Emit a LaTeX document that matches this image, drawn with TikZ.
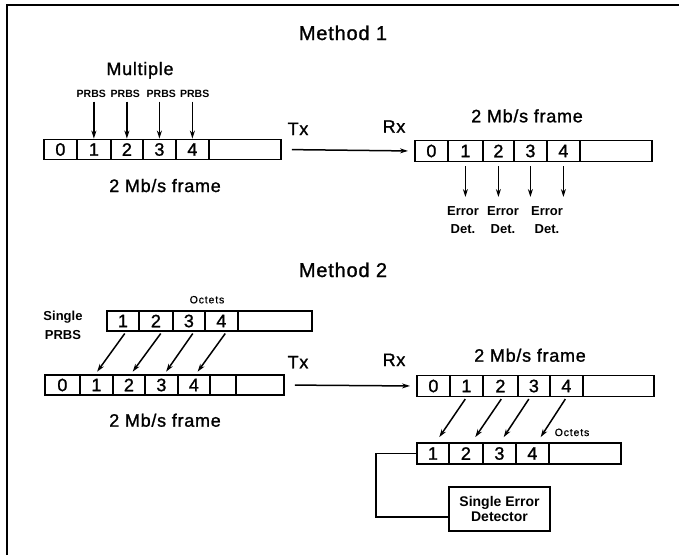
\documentclass[tikz,border=0pt]{standalone}
\usepackage{fontspec}
\setmainfont{Liberation Sans}
\usetikzlibrary{arrows.meta}
\begin{document}
\begin{tikzpicture}[x=1pt,y=-1pt,
  cell/.style={draw, line width=1.8pt, inner sep=0pt, anchor=west, font=\fontsize{18}{20}\selectfont\addfontfeature{FakeBold=1.2}},
  big/.style={inner sep=0pt, anchor=base, font=\fontsize{18}{20}\selectfont\addfontfeature{LetterSpace=4,FakeBold=1.2}},
  title/.style={inner sep=0pt, anchor=base, font=\fontsize{20}{22}\selectfont\addfontfeature{LetterSpace=4,FakeBold=1.2}},
  prbs/.style={inner sep=0pt, anchor=base, font=\fontsize{10.5}{12}\selectfont\bfseries},
  oct/.style={inner sep=0pt, anchor=base, font=\fontsize{10.5}{12}\selectfont\addfontfeature{LetterSpace=8,FakeBold=0.8}},
  lab/.style={inner sep=0pt, align=center, font=\fontsize{13}{18}\selectfont\bfseries},
  arr/.style={-{Stealth[length=8pt,width=5pt]}, line width=1.5pt},
  wire/.style={line width=1.8pt}]
\useasboundingbox (0,0) rectangle (679,555);
\draw[line width=2pt] (7,555) -- (7,5) -- (679,5);

% ---------- Method 1 ----------
\node[title] (m1) at (343,40) {Method 1};
\node[big] (mult) at (140,75) {Multiple};
\node[prbs] (p1) at (91.3,97.3) {PRBS};
\node[prbs] (p2) at (125.3,97.3) {PRBS};
\node[prbs] (p3) at (161.3,97.3) {PRBS};
\node[prbs] (p4) at (194.7,97.3) {PRBS};

\node[cell, minimum width=33pt, minimum height=20pt] (a0) at (43,149.5) {0};
\node[cell, minimum width=34pt, minimum height=20pt] (a1) at (76,149.5) {1};
\node[cell, minimum width=32pt, minimum height=20pt] (a2) at (110,149.5) {2};
\node[cell, minimum width=33pt, minimum height=20pt] (a3) at (142,149.5) {3};
\node[cell, minimum width=33pt, minimum height=20pt] (a4) at (175,149.5) {4};
\node[cell, minimum width=72pt, minimum height=20pt] (a5) at (208,149.5) {};

\foreach \i in {1,2,3,4}{
  \draw[arr, shorten <=4pt] (p\i.south -| a\i.north) -- (a\i.north);
}

\node[big] (tx1) at (298,135) {Tx};
\node[big] (rx1) at (394,132.7) {Rx};
\node[big] (f1a) at (165,192) {2 Mb/s frame};
\node[big] (f1b) at (527,122.3) {2 Mb/s frame};

\node[cell, minimum width=33pt, minimum height=21pt] (b0) at (414,151) {0};
\node[cell, minimum width=35pt, minimum height=21pt] (b1) at (447,151) {1};
\node[cell, minimum width=31pt, minimum height=21pt] (b2) at (482,151) {2};
\node[cell, minimum width=33pt, minimum height=21pt] (b3) at (513,151) {3};
\node[cell, minimum width=33pt, minimum height=21pt] (b4) at (546,151) {4};
\node[cell, minimum width=72pt, minimum height=21pt] (b5) at (579,151) {};

\draw[arr, shorten <=10pt, shorten >=6pt] (a5.east) -- (b0.west);

\coordinate (eline) at (0,197);
\foreach \i in {1,2,3,4}{
  \draw[arr, shorten <=4pt] (b\i.south) -- (b\i.south |- eline);
}
\node[lab] (err1) at (463,220.4) {Error\\Det.};
\node[lab] (err2) at (503,220.4) {Error\\Det.};
\node[lab] (err3) at (547,220.4) {Error\\Det.};

% ---------- Method 2 ----------
\node[title] (m2) at (343,277) {Method 2};
\node[lab, font=\fontsize{13}{19.3}\selectfont\bfseries] (sp) at (63,325) {Single\\PRBS};
\node[oct] (oct1) at (207,303.3) {Octets};

\node[cell, minimum width=32pt, minimum height=20pt] (c1) at (106,321) {1};
\node[cell, minimum width=34pt, minimum height=20pt] (c2) at (138,321) {2};
\node[cell, minimum width=32pt, minimum height=20pt] (c3) at (172,321) {3};
\node[cell, minimum width=33pt, minimum height=20pt] (c4) at (204,321) {4};
\node[cell, minimum width=74pt, minimum height=20pt] (c5) at (237,321) {};

\node[cell, minimum width=35pt, minimum height=20pt] (d0) at (44,385) {0};
\node[cell, minimum width=33pt, minimum height=20pt] (d1) at (79,385) {1};
\node[cell, minimum width=32pt, minimum height=20pt] (d2) at (112,385) {2};
\node[cell, minimum width=33pt, minimum height=20pt] (d3) at (144,385) {3};
\node[cell, minimum width=32pt, minimum height=20pt] (d4) at (177,385) {4};
\node[cell, minimum width=26pt, minimum height=20pt] (d5) at (209,385) {};
\node[cell, minimum width=48pt, minimum height=20pt] (d6) at (235,385) {};

\draw[arr, shorten <=2pt, shorten >=3pt] ([xshift=3pt]c1.south) -- ([xshift=-1pt]d1.north);
\draw[arr, shorten <=2pt, shorten >=3pt] ([xshift=6pt]c2.south) -- ([xshift=2pt]d2.north);
\draw[arr, shorten <=2pt, shorten >=3pt] ([xshift=5pt]c3.south) -- ([xshift=3pt]d3.north);
\draw[arr, shorten <=2pt, shorten >=3pt] ([xshift=5pt]c4.south) -- ([xshift=2pt]d4.north);

\node[big] (tx2) at (298,368.3) {Tx};
\node[big] (rx2) at (394,366) {Rx};
\node[big] (f2a) at (165,426.7) {2 Mb/s frame};
\node[big] (f2b) at (530,361.7) {2 Mb/s frame};

\node[cell, minimum width=33pt, minimum height=21pt] (e0) at (416,386) {0};
\node[cell, minimum width=33pt, minimum height=21pt] (e1) at (449,386) {1};
\node[cell, minimum width=35pt, minimum height=21pt] (e2) at (482,386) {2};
\node[cell, minimum width=32pt, minimum height=21pt] (e3) at (517,386) {3};
\node[cell, minimum width=33pt, minimum height=21pt] (e4) at (549,386) {4};
\node[cell, minimum width=71pt, minimum height=21pt] (e5) at (582,386) {};

\draw[arr, shorten <=10pt, shorten >=6pt] (d6.east) -- (e0.west);

\node[oct] (oct2) at (572,436) {Octets};
\node[cell, minimum width=32pt, minimum height=21pt] (f1) at (416,453.5) {1};
\node[cell, minimum width=34pt, minimum height=21pt] (f2) at (448,453.5) {2};
\node[cell, minimum width=33pt, minimum height=21pt] (f3) at (482,453.5) {3};
\node[cell, minimum width=33pt, minimum height=21pt] (f4) at (515,453.5) {4};
\node[cell, minimum width=72pt, minimum height=21pt] (f5) at (548,453.5) {};

\draw[arr, shorten <=2pt, shorten >=6pt] (e1.south) -- ([xshift=3pt]f1.north);
\draw[arr, shorten <=2pt, shorten >=6pt] ([xshift=2pt]e2.south) -- ([xshift=6pt]f2.north);
\draw[arr, shorten <=2pt, shorten >=6pt] ([xshift=-4pt]e3.south) -- ([xshift=1pt]f3.north);
\draw[arr, shorten <=2pt, shorten >=6pt] (e4.south) -- ([xshift=5pt]f4.north);

\node[draw, line width=1.8pt, minimum width=101pt, minimum height=44pt, inner sep=0pt,
      align=center, font=\fontsize{14}{15}\selectfont\bfseries] (det) at (499.5,509) {Single Error\\Detector};
\coordinate (bend) at (376,517);
\draw[wire] (f1.west) -| (bend) -- (bend -| det.west);
\end{tikzpicture}
\end{document}
